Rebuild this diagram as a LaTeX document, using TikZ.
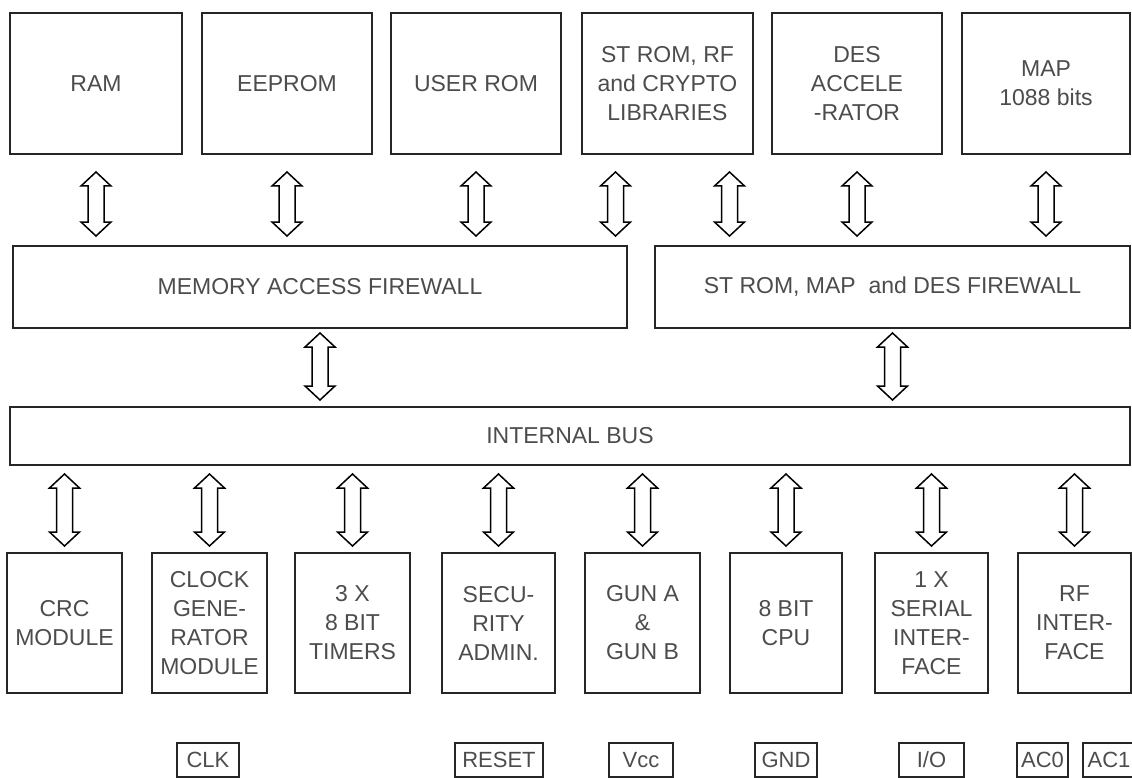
\documentclass[tikz,border=0pt]{standalone}
\usepackage{fontspec}
\setmainfont{Liberation Sans}
\usetikzlibrary{calc}
\newcommand\hollowarr[2]{%
  \draw[harrow] let \p1=#1, \p2=#2 in
    (\x1,\y1) -- ({\x1+15pt},{\y1-14pt}) -- ({\x1+8pt},{\y1-14pt})
    -- ({\x1+8pt},{\y2+14pt}) -- ({\x1+15pt},{\y2+14pt}) -- (\x1,\y2)
    -- ({\x1-15pt},{\y2+14pt}) -- ({\x1-8pt},{\y2+14pt})
    -- ({\x1-8pt},{\y1-14pt}) -- ({\x1-15pt},{\y1-14pt}) -- cycle;}
\begin{document}
\begin{tikzpicture}[x=1pt,y=-1pt,
  box/.style={draw=black!85, line width=2pt, inner sep=0pt, align=center,
    text=black!70, font=\fontsize{23}{29}\selectfont},
  topbox/.style={box, minimum width=#1, minimum height=141pt},
  botbox/.style={box, minimum width=#1, minimum height=140pt},
  pinbox/.style={box, minimum width=#1, minimum height=34pt,
    font=\fontsize{22}{26}\selectfont},
  harrow/.style={draw=black, line width=1.5pt, fill=white, line join=miter}]
\useasboundingbox (0,0) rectangle (1132,778);

% top row
\node[topbox=172pt] (ram)    at (96,83.5)    {RAM};
\node[topbox=170pt] (eeprom) at (287,83.5)   {EEPROM};
\node[topbox=170pt] (urom)   at (476,83.5)   {USER ROM};
\node[topbox=171pt] (strom)  at (667.5,83.5) {ST ROM, RF\\and CRYPTO\\LIBRARIES};
\node[topbox=170pt] (des)    at (857,83.5)   {DES\\ACCELE\\-RATOR};
\node[topbox=168pt] (map)    at (1046,83.5)  {MAP\\1088 bits};

% firewalls and bus
\node[box, minimum width=614pt, minimum height=82pt] (maf) at (320,287) {MEMORY ACCESS FIREWALL};
\node[box, minimum width=475pt, minimum height=82pt] (stf) at (892.5,287) {ST ROM, MAP~ and DES FIREWALL};
\node[box, minimum width=1120pt, minimum height=58pt] (bus) at (570,436) {INTERNAL BUS};

% bottom row
\node[botbox=115pt] (crc)    at (64.5,623)   {CRC\\MODULE};
\node[botbox=115pt] (clock)  at (209.5,623)  {CLOCK\\GENE-\\RATOR\\MODULE};
\node[botbox=115pt] (timers) at (352.5,623)  {3 X\\8 BIT\\TIMERS};
\node[botbox=113pt] (sec)    at (498.5,623)  {SECU-\\RITY\\ADMIN.};
\node[botbox=115pt] (gun)    at (642.5,623)  {GUN A\\\&\\GUN B};
\node[botbox=112pt] (cpu)    at (786,623)    {8 BIT\\CPU};
\node[botbox=113pt] (serial) at (931.5,623)  {1 X\\SERIAL\\INTER-\\FACE};
\node[botbox=113pt] (rf)     at (1074.5,623) {RF\\INTER-\\FACE};

% pins
\node[pinbox=62pt] (clk)   at (208,760)    {CLK};
\node[pinbox=88pt] (reset) at (499,760)    {RESET};
\node[pinbox=64pt] (vcc)   at (641,760)    {Vcc};
\node[pinbox=62pt] (gnd)   at (786,760)    {GND};
\node[pinbox=65pt] (io)    at (931.5,760)  {I/O};
\node[pinbox=51pt] (ac0)   at (1042.5,760) {AC0};
\node[pinbox=52pt] (ac1)   at (1109,760)   {AC1};

% arrows: top row to firewalls
\hollowarr{($(ram.south)+(0,17)$)}{($(maf.north)+(0,-9)$)}
\hollowarr{($(eeprom.south)+(0,17)$)}{($(maf.north)+(0,-9)$)}
\hollowarr{($(urom.south)+(0,17)$)}{($(maf.north)+(0,-9)$)}
\hollowarr{($(strom.south)+(-52,17)$)}{($(maf.north)+(0,-9)$)}
\hollowarr{($(strom.south)+(62,17)$)}{($(stf.north)+(0,-9)$)}
\hollowarr{($(des.south)+(0,17)$)}{($(stf.north)+(0,-9)$)}
\hollowarr{($(map.south)+(0,17)$)}{($(stf.north)+(0,-9)$)}

% firewalls to bus
\hollowarr{($(maf.south)+(0,4)$)}{($(bus.north)+(0,-6)$)}
\hollowarr{($(stf.south)+(0,4)$)}{($(bus.north)+(0,-6)$)}

% bus to bottom row
\foreach \b in {crc,clock,timers,sec,gun,cpu,serial,rf}{
  \hollowarr{($(\b.north |- bus.south)+(0,8)$)}{($(\b.north)+(0,-6)$)}
}
\end{tikzpicture}
\end{document}
